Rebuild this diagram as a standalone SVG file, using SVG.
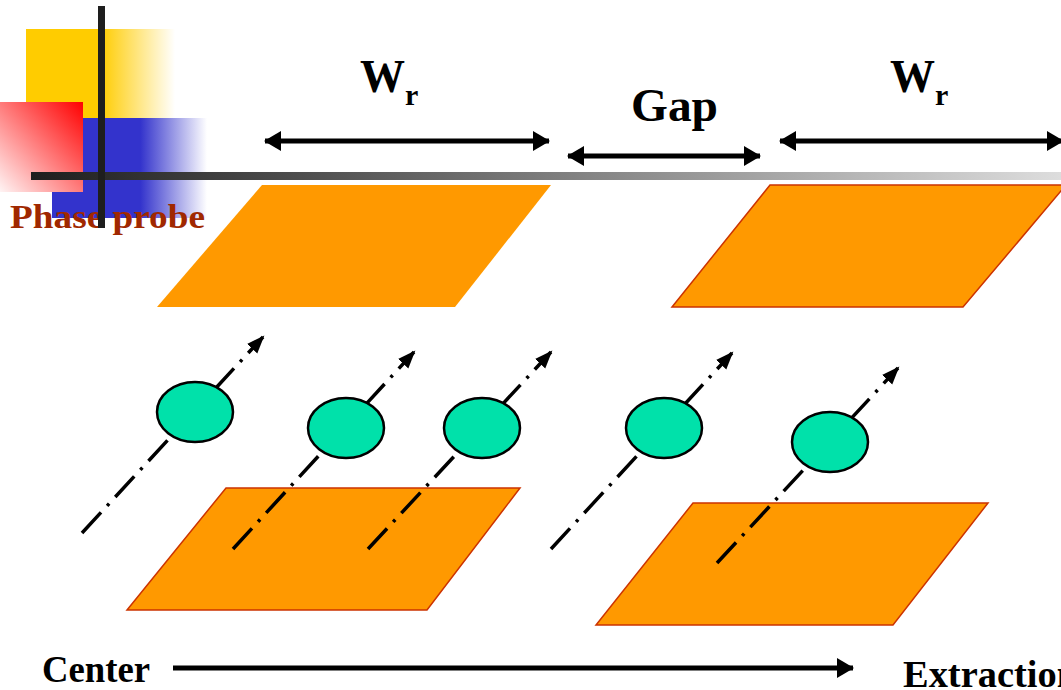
<svg xmlns="http://www.w3.org/2000/svg" width="1061" height="690" viewBox="0 0 1061 690">
<defs>
<style>
.plate{fill:#FF9900;stroke:#CC3300;stroke-width:1.5}
.dot{fill:#00E1AA;stroke:#000;stroke-width:2.5}
.ray{stroke:#000;stroke-width:3.5;fill:none;stroke-dasharray:28 9 3 9;marker-end:url(#ah)}
.dim{stroke:#000;stroke-width:5;fill:none;marker-start:url(#dh);marker-end:url(#dh)}
.lbl{font-family:"Liberation Serif","Times New Roman",serif;font-weight:bold;fill:#000}
</style>
<marker id="ah" markerUnits="userSpaceOnUse" markerWidth="20" markerHeight="16" refX="16" refY="7" orient="auto"><path d="M0,0 L18,7 L0,14 z" fill="#000"/></marker>
<marker id="dh" markerUnits="userSpaceOnUse" markerWidth="20" markerHeight="22" refX="16" refY="10" orient="auto-start-reverse"><path d="M0,0 L17,10 L0,20 z" fill="#000"/></marker>
<linearGradient id="gy" x1="0" y1="0" x2="1" y2="0"><stop offset="0.5" stop-color="#FFCC00"/><stop offset="1" stop-color="#FFCC00" stop-opacity="0"/></linearGradient>
<linearGradient id="gb" x1="0" y1="0" x2="1" y2="0"><stop offset="0.57" stop-color="#3333CC"/><stop offset="1" stop-color="#3333CC" stop-opacity="0"/></linearGradient>
<linearGradient id="gr" x1="1" y1="0" x2="0" y2="1"><stop offset="0" stop-color="#FF0000"/><stop offset="1" stop-color="#FFF4F4"/></linearGradient>
<linearGradient id="gh" x1="0" y1="0" x2="1" y2="0"><stop offset="0" stop-color="#1E1E1E"/><stop offset="0.3" stop-color="#555"/><stop offset="1" stop-color="#DDDDDD"/></linearGradient>
</defs>
<g id="logo">
<rect x="26" y="29" width="149" height="89" fill="url(#gy)"/>
<rect x="52" y="118" width="155" height="100" fill="url(#gb)"/>
<rect x="0" y="102" width="83" height="90" fill="url(#gr)"/>
<text x="10" y="228" class="lbl" font-size="34" style="fill:#A02800" textLength="195" lengthAdjust="spacingAndGlyphs">Phase probe</text>
<rect x="31" y="172" width="1030" height="8" fill="url(#gh)"/>
<rect x="98" y="6" width="7" height="222" fill="#1E1E1E"/>
</g>
<g id="plates">
<polygon id="plate-top-1" class="plate" style="stroke:none" points="262,185 551,185 455,307 157,307"/>
<polygon id="plate-top-2" class="plate" points="770,185 1066,185 963,307 672,307"/>
<polygon id="plate-bot-1" class="plate" points="226,488 520,488 427,610 127,610"/>
<polygon id="plate-bot-2" class="plate" points="693,503 988,503 893,625 596,625"/>
</g>
<g id="connectors">
<line class="ray" x1="82" y1="533" x2="263" y2="337"/>
<line class="ray" x1="233" y1="549" x2="414" y2="352"/>
<line class="ray" x1="368" y1="549" x2="551" y2="352"/>
<line class="ray" x1="551" y1="549" x2="732" y2="353"/>
<line class="ray" x1="717" y1="563" x2="898" y2="368"/>
<line class="dim" x1="265" y1="141" x2="549" y2="141"/>
<line class="dim" x1="568" y1="156" x2="760" y2="156"/>
<line class="dim" x1="780" y1="141" x2="1063" y2="141"/>
<line stroke="#000" stroke-width="5" x1="173" y1="668" x2="853" y2="668" marker-end="url(#dh)"/>
</g>
<g id="particles">
<ellipse id="p1" class="dot" cx="195" cy="412" rx="38" ry="30"/>
<ellipse id="p2" class="dot" cx="346" cy="428" rx="38" ry="30"/>
<ellipse id="p3" class="dot" cx="482" cy="428" rx="38" ry="30"/>
<ellipse id="p4" class="dot" cx="664" cy="428" rx="38" ry="30"/>
<ellipse id="p5" class="dot" cx="830" cy="442" rx="38" ry="30"/>
</g>
<g id="labels">
<text class="lbl" x="360" y="92" font-size="46" textLength="45" lengthAdjust="spacingAndGlyphs">W</text>
<text class="lbl" x="405" y="105" font-size="30">r</text>
<text class="lbl" x="631" y="121" font-size="46" textLength="87" lengthAdjust="spacingAndGlyphs">Gap</text>
<text class="lbl" x="890" y="92" font-size="46" textLength="45" lengthAdjust="spacingAndGlyphs">W</text>
<text class="lbl" x="935" y="105" font-size="30">r</text>
<text class="lbl" x="42" y="682" font-size="38" textLength="108" lengthAdjust="spacingAndGlyphs">Center</text>
<text class="lbl" x="903" y="687" font-size="38" textLength="175" lengthAdjust="spacingAndGlyphs">Extraction</text>
</g>
</svg>
